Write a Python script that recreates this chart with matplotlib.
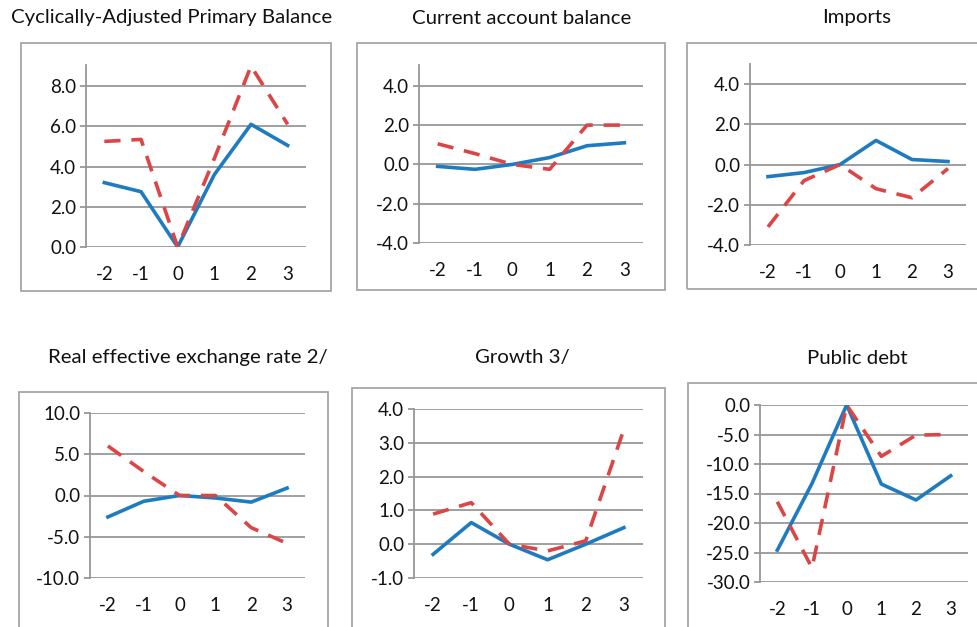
import matplotlib
matplotlib.use("Agg")
import matplotlib.pyplot as plt
from matplotlib.patches import Rectangle

W, H = 977, 627

years = [-2, -1, 0, 1, 2, 3]

titles = ["Cyclically-Adjusted Primary Balance", "Current account balance", "Imports",
          "Real effective exchange rate 2/", "Growth 3/", "Public debt"]

capb_solid = [3.2, 2.75, 0.0, 3.6, 6.1, 5.05]
capb_dashed = [5.25, 5.35, 0.0, 4.4, 9.0, 6.1]
cab_solid = [-0.1, -0.25, 0.0, 0.35, 0.95, 1.1]
cab_dashed = [1.05, 0.55, 0.0, -0.25, 2.0, 2.0]
imp_solid = [-0.6, -0.4, 0.0, 1.2, 0.25, 0.15]
imp_dashed = [-3.1, -0.8, 0.0, -1.2, -1.65, -0.2]
reer_solid = [-2.6, -0.7, 0.0, -0.3, -0.8, 0.9]
reer_dashed = [6.0, 2.9, 0.0, 0.0, -3.9, -5.8]
growth_solid = [-0.3, 0.64, 0.0, -0.46, 0.0, 0.49]
growth_dashed = [0.89, 1.23, 0.0, -0.2, 0.1, 3.4]
debt_solid = [-24.6, -13.3, 0.0, -13.4, -16.1, -12.0]
debt_dashed = [-16.4, -27.6, 0.0, -8.7, -5.1, -5.0]

solid = [capb_solid, cab_solid, imp_solid, reer_solid, growth_solid, debt_solid]
dashed = [capb_dashed, cab_dashed, imp_dashed, reer_dashed, growth_dashed, debt_dashed]
yticks = [[0, 2, 4, 6, 8], [-4, -2, 0, 2, 4], [-4, -2, 0, 2, 4],
          [-10, -5, 0, 5, 10], [-1, 0, 1, 2, 3, 4], [-30, -25, -20, -15, -10, -5, 0]]
ylims = [(0, 9.05), (-4, 5.06), (-4, 5.0), (-10, 10), (-1, 4), (-30, 0)]

# layout in pixels: plot area (left, right, top, bottom), outer box, title centre
plot_px = [(86, 306, 65, 247), (419, 643, 65, 243), (750, 966, 64, 245),
           (90, 305, 413, 578), (414, 643, 409, 578), (760, 968, 405, 582)]
box_px = [(21, 331, 43, 291), (357, 665, 43, 290), (687, 990, 43, 289),
          (19, 328, 392, 640), (352, 665, 388, 640), (688, 990, 383, 640)]
title_px = [(172, 18), (522, 18), (857, 18), (188, 358), (522, 358), (857, 358)]

BLUE = "#1f7bc0"
RED = "#dc4545"
GRID = "#979797"
TEXT = "#111111"

plt.rcParams["font.family"] = ["Lato", "DejaVu Sans"]

fig = plt.figure(figsize=(W / 100, H / 100), dpi=100)

for i in range(6):
    l, r, t, b = box_px[i]
    fig.patches.append(Rectangle((l / W, 1 - b / H), (r - l) / W, (b - t) / H,
                                 transform=fig.transFigure, fill=False,
                                 edgecolor="#a6a6a6", linewidth=1.3))
    tx, ty = title_px[i]
    fig.text(tx / W, 1 - ty / H, titles[i], ha="center", va="center",
             fontsize=14.7, color=TEXT)

    l, r, t, b = plot_px[i]
    ax = fig.add_axes([l / W, 1 - b / H, (r - l) / W, (b - t) / H])
    ax.patch.set_alpha(0)
    ax.plot(years, solid[i], color=BLUE, linewidth=2.6, zorder=3)
    ax.plot(years, dashed[i], color=RED, linewidth=2.6, dashes=(4.5, 3.0), zorder=4)
    ax.set_xlim(-2.5, 3.5)
    ax.set_ylim(*ylims[i])
    ax.set_yticks(yticks[i])
    ax.set_yticklabels([f"{v:.1f}" for v in yticks[i]])
    ax.set_xticks(years)
    ax.set_xticklabels([str(v) for v in years])
    for v in yticks[i]:
        ax.axhline(v, color=GRID, linewidth=1.3, zorder=1)
    for s in ["top", "right", "bottom"]:
        ax.spines[s].set_visible(False)
    ax.spines["left"].set_color(GRID)
    ax.spines["left"].set_linewidth(1.3)
    ax.tick_params(axis="y", length=4, width=1.3, color=GRID, pad=3,
                   labelsize=13.5, labelcolor=TEXT)
    # category labels sit a fixed distance below the plot area
    ax.tick_params(axis="x", length=0, pad=14, labelsize=13.5, labelcolor=TEXT)

fig.savefig("out.png", dpi=100)
